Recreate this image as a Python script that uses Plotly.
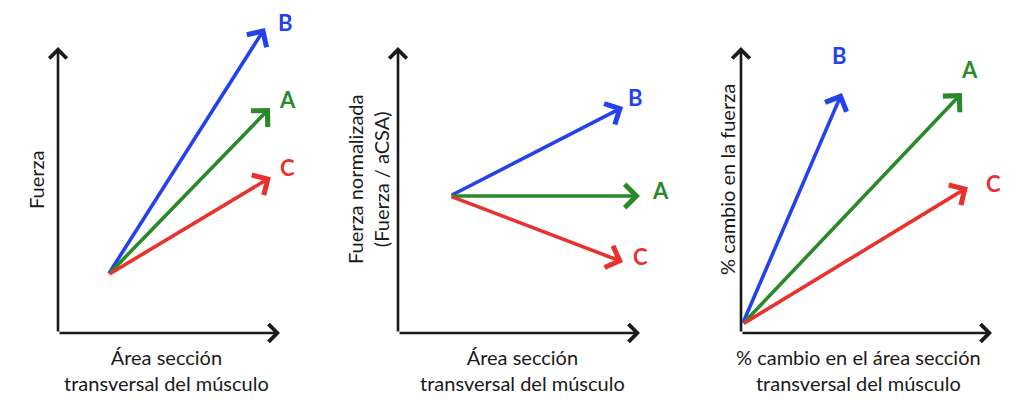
import plotly.graph_objects as go

W, H = 1024, 407

series = ["B", "A", "C"]
colors = {"A": "#2a8a2a", "B": "#2342ee", "C": "#e8322e"}

# panel 1: Fuerza vs área
p1_origin = (2.25, 2.03)
p1_tip_x = [9.32, 9.55, 9.59]
p1_tip_y = [10.66, 7.87, 5.45]
p1_lab_x = [10.23, 10.32, 10.32]
p1_lab_y = [10.84, 8.15, 5.77]

# panel 2: fuerza normalizada
p2_origin = (2.15, 4.79)
p2_tip_x = [9.30, 10.0, 9.30]
p2_tip_y = [7.90, 4.79, 2.48]
p2_lab_x = [9.8, 10.83, 10.0]
p2_lab_y = [8.25, 5.0, 2.66]

# panel 3: % cambio
p3_origin = (0.05, 0.3)
p3_tip_x = [4.02, 8.80, 9.04]
p3_tip_y = [8.39, 8.39, 5.10]
p3_lab_x = [3.94, 9.12, 10.04]
p3_lab_y = [9.72, 9.2, 5.24]

x_titles = ["Área sección<br>transversal del músculo",
            "Área sección<br>transversal del músculo",
            "% cambio en el área sección<br>transversal del músculo"]
y_titles = ["Fuerza", "Fuerza normalizada<br>(Fuerza / aCSA)", "% cambio en la fuerza"]

# pixel boxes of the drawn axes (left, right, top, bottom)
boxes = [(58, 280, 47, 333), (398, 640, 47, 333), (741, 992, 47, 333)]
x_title_px = [166, 522, 858]
y_title_px = [36, 368, 727]

FONT = "Lato, 'Open Sans', sans-serif"

fig = go.Figure()
layout = {}
annotations = []

panels = [
    (p1_origin, p1_tip_x, p1_tip_y, p1_lab_x, p1_lab_y),
    (p2_origin, p2_tip_x, p2_tip_y, p2_lab_x, p2_lab_y),
    (p3_origin, p3_tip_x, p3_tip_y, p3_lab_x, p3_lab_y),
]

for i, (box, pdata) in enumerate(zip(boxes, panels)):
    left, right, top, bottom = box
    pad_l, pad_r, pad_t, pad_b = 20, 30, 45, 10
    ux = (right - left) / 10
    uy = (bottom - top) / 10
    n = "" if i == 0 else str(i + 1)
    xa, ya = "x" + n, "y" + n
    layout["xaxis" + n] = dict(
        domain=[(left - pad_l) / W, (right + pad_r) / W],
        range=[-pad_l / ux, 10 + pad_r / ux],
        visible=False, fixedrange=True, anchor=ya,
    )
    layout["yaxis" + n] = dict(
        domain=[1 - (bottom + pad_b) / H, 1 - (top - pad_t) / H],
        range=[-pad_b / uy, 10 + pad_t / uy],
        visible=False, fixedrange=True, anchor=xa,
    )

    origin, tx, ty, lx, ly = pdata
    fig.add_trace(go.Scatter(x=tx, y=ty, mode="markers", marker=dict(opacity=0),
                             hoverinfo="skip", xaxis=xa, yaxis=ya))

    # axes of the diagram
    for (x1, y1) in [(10, 0), (0, 10)]:
        annotations.append(dict(
            x=x1, y=y1, ax=0, ay=0, xref=xa, yref=ya, axref=xa, ayref=ya,
            text="", showarrow=True, arrowhead=4, arrowsize=1.3, arrowwidth=2.6,
            arrowcolor="#1a1a1a", standoff=0,
        ))

    for k, s in enumerate(series):
        annotations.append(dict(
            x=tx[k], y=ty[k], ax=origin[0], ay=origin[1],
            xref=xa, yref=ya, axref=xa, ayref=ya,
            text="", showarrow=True, arrowhead=4, arrowsize=1.25, arrowwidth=3.6,
            arrowcolor=colors[s], standoff=0,
        ))
        annotations.append(dict(
            x=lx[k], y=ly[k], xref=xa, yref=ya, text="<b>" + s + "</b>",
            xanchor="center", yanchor="middle",
            showarrow=False, font=dict(family=FONT, size=22, color=colors[s]),
        ))

    annotations.append(dict(
        x=x_title_px[i] / W, y=1 - 370 / H, xref="paper", yref="paper",
        xanchor="center", yanchor="middle",
        text=x_titles[i], showarrow=False, align="center",
        font=dict(family=FONT, size=20, color="#1a1a1a"),
    ))
    annotations.append(dict(
        x=y_title_px[i] / W, y=1 - 180 / H, xref="paper", yref="paper",
        xanchor="center", yanchor="middle",
        text=y_titles[i], showarrow=False, textangle=-90, align="center",
        font=dict(family=FONT, size=20, color="#1a1a1a"),
    ))

fig.update_layout(
    **layout,
    annotations=annotations,
    width=W, height=H,
    showlegend=False,
    margin=dict(l=0, r=0, t=0, b=0),
    paper_bgcolor="white", plot_bgcolor="white",
)

fig.write_html("out.html", config={"displayModeBar": False},
               post_script="document.body.style.margin='0';")
